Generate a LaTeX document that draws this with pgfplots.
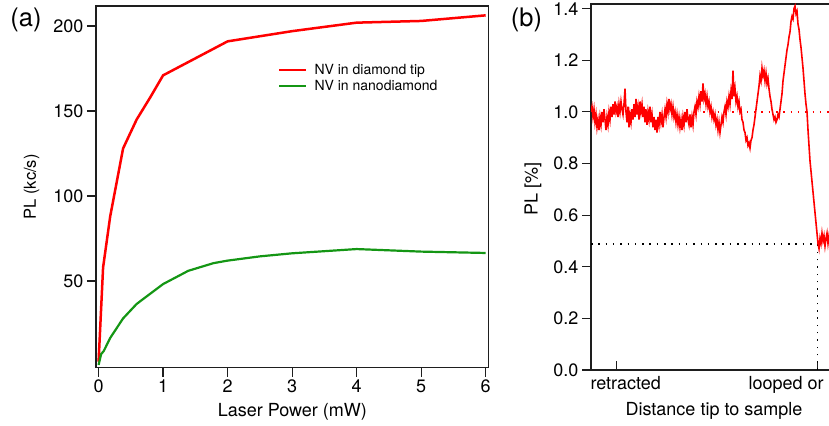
\documentclass[border=0pt]{standalone}
\usepackage{pgfplots}
\pgfplotsset{compat=1.18}
\usepackage{pgfplotstable}
\usepackage{fontspec}
\setmainfont{TeX Gyre Heros}
\definecolor{pgreen}{RGB}{20,150,20}
\definecolor{axgray}{RGB}{30,30,30}

\pgfplotstableread{
x y
0 1.00
1 1.02
2 0.98
3 1.01
4 0.96
5 0.99
6 0.94
7 0.97
8 0.93
9 0.98
10 0.95
11 1.00
12 0.96
13 1.01
14 0.97
15 0.93
16 0.98
17 0.95
18 1.00
19 0.97
20 1.02
21 0.98
22 1.03
23 0.99
24 1.04
25 1.00
26 1.02
27 0.98
28 1.03
29 1.00
30 1.04
31 1.01
32 0.99
33 1.03
34 1.09
35 1.00
36 0.96
37 1.02
38 0.94
39 0.99
40 0.96
41 1.01
42 0.97
43 1.03
44 0.98
45 1.05
46 0.99
47 1.02
48 0.97
49 1.04
50 1.00
51 1.03
52 0.98
53 1.02
54 0.96
55 1.01
56 0.95
57 1.00
58 0.97
59 1.02
60 0.96
61 0.99
62 0.94
63 0.98
64 0.93
65 0.97
66 0.92
67 0.98
68 0.95
69 1.00
70 0.96
71 0.99
72 0.94
73 0.98
74 1.01
75 0.98
76 1.03
77 1.00
78 1.05
79 1.01
80 1.03
81 0.99
82 1.02
83 0.98
84 1.00
85 0.96
86 0.99
87 0.95
88 0.98
89 0.94
90 0.97
91 0.93
92 0.98
93 0.95
94 1.00
95 0.96
96 1.01
97 0.97
98 0.95
99 0.99
100 0.94
101 0.98
102 0.95
103 1.00
104 1.02
105 0.99
106 1.04
107 1.02
108 1.06
109 1.03
110 1.08
111 1.04
112 1.11
113 1.05
114 1.07
115 1.03
116 1.06
117 1.02
118 1.04
119 1.00
120 1.02
121 0.98
122 1.00
123 0.97
124 0.99
125 0.95
126 0.97
127 0.93
128 0.96
129 0.92
130 0.95
131 0.98
132 0.96
133 1.00
134 1.02
135 0.99
136 1.04
137 1.02
138 1.06
139 1.03
140 1.08
141 1.05
142 1.16
143 1.06
144 1.09
145 1.04
146 1.06
147 1.02
148 1.04
149 1.00
150 1.01
151 0.97
152 0.96
153 0.93
154 0.92
155 0.89
156 0.90
157 0.87
158 0.88
159 0.86
160 0.89
161 0.90
162 0.93
163 0.95
164 0.98
165 1.01
166 1.04
167 1.07
168 1.10
169 1.14
170 1.12
171 1.17
172 1.14
173 1.16
174 1.12
175 1.15
176 1.11
177 1.13
178 1.09
179 1.06
180 1.04
181 1.01
182 0.99
183 0.97
184 0.98
185 0.96
186 0.97
187 0.99
188 0.98
189 1.01
190 1.04
191 1.07
192 1.12
193 1.15
194 1.18
195 1.21
196 1.24
197 1.26
198 1.29
199 1.31
200 1.35
201 1.37
202 1.36
203 1.40
204 1.41
205 1.38
206 1.39
207 1.34
208 1.32
209 1.28
210 1.25
211 1.21
212 1.17
213 1.12
214 1.07
215 1.03
216 1.00
217 0.93
218 0.87
219 0.81
220 0.77
221 0.73
222 0.69
223 0.65
224 0.61
225 0.57
226 0.53
227 0.49
228 0.47
229 0.51
230 0.49
231 0.53
232 0.50
233 0.52
234 0.48
235 0.51
236 0.53
237 0.49
238 0.52
239 0.50
240 0.51
}\tracedata

\begin{document}
\begin{tikzpicture}
\useasboundingbox (0,0) rectangle (829bp,426bp);
\clip (0,0) rectangle (829bp,426bp);
\pgfplotsset{
  every axis/.append style={
    scale only axis,
    axis line style={line width=1.4bp, axgray},
    tick style={line width=1.2bp, axgray},
    major tick length=9bp,
    tick label style={font=\fontsize{18bp}{20bp}\selectfont},
    /pgf/number format/assume math mode=true,
    label style={font=\fontsize{18bp}{20bp}\selectfont},
  },
}
\begin{axis}[
  at={(96bp,58.3bp)}, anchor=south west,
  width=392.7bp, height=361.7bp,
  xmin=-0.04, xmax=6.047, ymin=-1, ymax=211.8,
  xtick={0,1,2,3,4,5,6}, ytick={50,100,150,200},
  tick align=outside, xtick pos=bottom, ytick pos=left,
  xlabel={Laser Power (mW)}, ylabel={PL (kc/s)},
  xlabel style={at={(axis description cs:0.5,-0.1217)}, anchor=center},
  ylabel style={at={(axis description cs:-0.164,0.5)}, anchor=center, font=\fontsize{16.5bp}{18bp}\selectfont},
  legend style={draw=none, fill=none, at={(0.463,0.845)}, anchor=north west,
    font=\fontsize{14bp}{16bp}\selectfont, inner sep=0pt, row sep=0bp,
    /tikz/every odd column/.append style={column sep=5bp}},
  legend cell align=left,
  legend image code/.code={\draw[#1] (0bp,0bp) -- (27bp,0bp);},
]
\addplot[red, line width=2.5bp] coordinates {
  (0,2.5) (0.07,58) (0.18,88) (0.38,128) (0.59,145) (0.8,158) (1,171)
  (2,191) (3,197) (4,202) (5,203) (6,206.3)};
\addlegendentry{NV in diamond tip}
\addplot[pgreen, line width=2.2bp] coordinates {
  (0,0.6) (0.04,7) (0.08,8.8) (0.18,16.5) (0.38,28) (0.59,36.5) (1,48.2)
  (1.39,56) (1.78,60.5) (2,62) (2.5,64.5) (3,66.3) (4,68.8) (5,67.3) (6,66.5)};
\addlegendentry{NV in nanodiamond}
\end{axis}

\begin{axis}[
  at={(591bp,56bp)}, anchor=south west,
  width=393bp, height=366bp,
  xmin=0, xmax=393, ymin=0, ymax=1.418,
  xtick={25.7,226.7},
  xticklabels={\hspace*{18bp}retracted, looped or contact},
  ytick={0,0.2,0.4,0.6,0.8,1.0,1.2,1.4},
  yticklabel style={/pgf/number format/.cd, fixed, fixed zerofill, precision=1},
  tick align=outside, xtick pos=bottom, ytick pos=left,
  xtick style={yshift=9bp},
  xticklabel style={yshift=6bp},
  xlabel={Distance tip to sample}, ylabel={PL [\%]},
  xlabel style={at={(axis description cs:0.313,-0.111)}, anchor=center},
  ylabel style={at={(axis description cs:-0.1476,0.4945)}, anchor=center},
]
\addplot[red, line width=1.4bp, dash pattern=on 1.5bp off 5.8bp] coordinates {(112,1) (393,1)};
\addplot[black, line width=1.4bp, dash pattern=on 1.5bp off 5.8bp] coordinates {(0,0.488) (393,0.488)};
\addplot[black, line width=1.4bp, dash pattern=on 1.5bp off 5.8bp] coordinates {(226.7,0) (226.7,0.488)};
\addplot[red, line width=1.6bp] table[x=x, y=y] {\tracedata};
\end{axis}

\node[font=\fontsize{25.5bp}{28bp}\selectfont] at (26bp,406bp) {(a)};
\node[font=\fontsize{25.5bp}{28bp}\selectfont] at (526.5bp,406bp) {(b)};
\end{tikzpicture}
\end{document}
